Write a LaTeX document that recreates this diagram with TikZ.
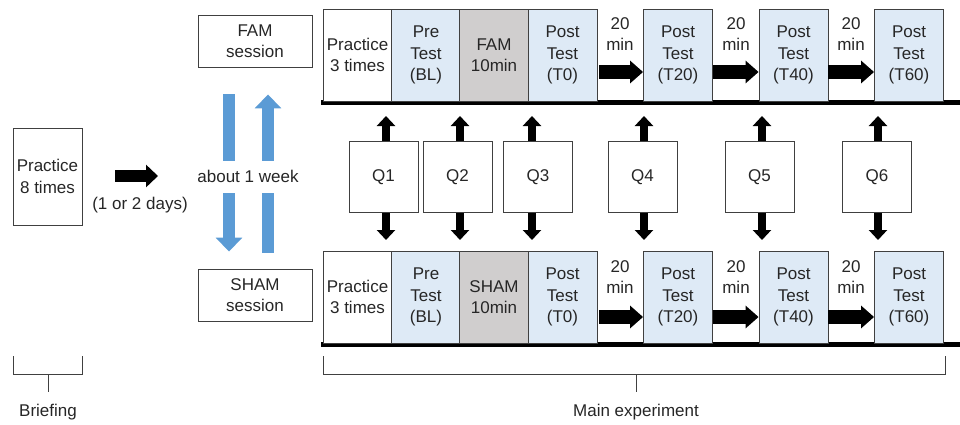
\documentclass[tikz,border=0pt]{standalone}
\usepackage{fontspec}
\setmainfont{Liberation Sans}
\usetikzlibrary{arrows.meta,calc}
\definecolor{txt}{HTML}{262626}
\definecolor{edge}{HTML}{404040}
\definecolor{testblue}{HTML}{DEEAF6}
\definecolor{stimgray}{HTML}{D0CECE}
\definecolor{weekblue}{HTML}{5B9BD5}
\tikzset{
  every node/.style={text=txt, font=\fontsize{17}{21.5}\selectfont},
  stagebox/.style={draw=edge, line width=0.9pt, minimum width=69pt, minimum height=92pt,
                   inner sep=0pt, align=center},
  testbox/.style={stagebox, fill=testblue},
  stimbox/.style={stagebox, fill=stimgray},
  plainbox/.style={draw=edge, line width=0.9pt, inner sep=0pt, align=center},
  qbox/.style={plainbox, minimum width=69pt, minimum height=71pt},
  gaplabel/.style={align=center},
  timeline/.style={line width=5.5pt, black},
  gaparrow/.style={line width=14pt, black, -{Triangle[width=22pt,length=13pt]}},
  qarrow/.style={line width=8pt, black, -{Triangle[width=18pt,length=10pt]}},
  weekarrow/.style={line width=12pt, weekblue, -{Triangle[width=26pt,length=14pt]}},
  bracket/.style={draw=edge, line width=0.9pt},
}
\begin{document}
\begin{tikzpicture}[x=1pt, y=-1pt]
\useasboundingbox (0,0) rectangle (960,425);

% ---- briefing ----
\node[plainbox, minimum width=69pt, minimum height=97pt] (prac8) at (47.5,176.5) {Practice\\8 times};
\coordinate (dayend) at (158,176);
\draw[line width=12pt, black, -{Triangle[width=22pt,length=12pt]}] (prac8.east |- dayend) ++(33,0) -- (dayend);
\node (days) at (140,205) {(1 or 2 days)};

% ---- session boxes and crossover ----
\node[plainbox, minimum width=114pt, minimum height=52pt] (famS) at (255,41) {FAM\\session};
\node[plainbox, minimum width=114pt, minimum height=52pt] (shamS) at (255,295) {SHAM\\session};
\draw[weekarrow, shorten <=27pt, shorten >=17pt] (famS.south -| 229,0) -- (shamS.north -| 229,0);
\draw[weekarrow, shorten <=16pt, shorten >=27pt] (shamS.north -| 268,0) -- (famS.south -| 268,0);
\node[fill=white, inner xsep=1pt, minimum height=32pt] (week) at (248,176.5) {about 1 week};

% ---- FAM session timeline (top) ----
\draw[timeline] (321,102.5) -- (960,102.5);
\node[stagebox, fill=white] (fP) at (357.5,55) {Practice\\3 times};
\node[testbox] (fBL) at (426,55) {Pre\\Test\\(BL)};
\node[stimbox] (fS) at (494,55) {FAM\\10min};
\node[testbox] (fT0) at (562.5,55) {Post\\Test\\(T0)};
\node[testbox] (fT20) at (678,55) {Post\\Test\\(T20)};
\node[testbox] (fT40) at (793.5,55) {Post\\Test\\(T40)};
\node[testbox] (fT60) at (909,55) {Post\\Test\\(T60)};
\draw[gaparrow] ([xshift=2pt, yshift=-17pt]fT0.east) -- ([yshift=-17pt]fT20.west);
\draw[gaparrow] ([yshift=-17pt]fT20.east) -- ([yshift=-17pt]fT40.west);
\draw[gaparrow] ([yshift=-17pt]fT40.east) -- ([yshift=-17pt]fT60.west);
\node[gaplabel] (fm1) at (620,34) {20\\min};
\node[gaplabel] (fm2) at (736,34) {20\\min};
\node[gaplabel] (fm3) at (851,34) {20\\min};

% ---- SHAM session timeline (bottom) ----
\draw[timeline] (321,344.5) -- (960,344.5);
\node[stagebox, fill=white] (sP) at (357.5,297) {Practice\\3 times};
\node[testbox] (sBL) at (426,297) {Pre\\Test\\(BL)};
\node[stimbox] (sS) at (494,297) {SHAM\\10min};
\node[testbox] (sT0) at (562.5,297) {Post\\Test\\(T0)};
\node[testbox] (sT20) at (678,297) {Post\\Test\\(T20)};
\node[testbox] (sT40) at (793.5,297) {Post\\Test\\(T40)};
\node[testbox] (sT60) at (909,297) {Post\\Test\\(T60)};
\draw[gaparrow] ([xshift=2pt, yshift=-20pt]sT0.east) -- ([yshift=-20pt]sT20.west);
\draw[gaparrow] ([yshift=-20pt]sT20.east) -- ([yshift=-20pt]sT40.west);
\draw[gaparrow] ([yshift=-20pt]sT40.east) -- ([yshift=-20pt]sT60.west);
\node[gaplabel] (sm1) at (620,277) {20\\min};
\node[gaplabel] (sm2) at (736,277) {20\\min};
\node[gaplabel] (sm3) at (851,277) {20\\min};

% ---- questionnaires ----
\foreach \q/\cx/\ax in {1/383.5/386, 2/457.5/460, 3/538/532, 4/642.5/644, 5/759.5/762, 6/877/878}{
  \node[qbox] (Q\q) at (\cx,177) {Q\q};
  \coordinate (up\q) at (\ax,116);
  \coordinate (dn\q) at (\ax,240);
  \draw[qarrow] (Q\q.north -| up\q) -- (up\q);
  \draw[qarrow] (Q\q.south -| dn\q) -- (dn\q);
}

% ---- phase brackets ----
\draw[bracket] (13,356) -- (13,374) -- (82,374) -- (82,356);
\draw[bracket] (48,374) -- (48,392);
\node (brief) at (48,412) {Briefing};
\draw[bracket] (323,356) -- (323,374) -- (945,374) -- (945,356);
\draw[bracket] (636,374) -- (636,392);
\node (mainexp) at (636,412) {Main experiment};
\end{tikzpicture}
\end{document}
